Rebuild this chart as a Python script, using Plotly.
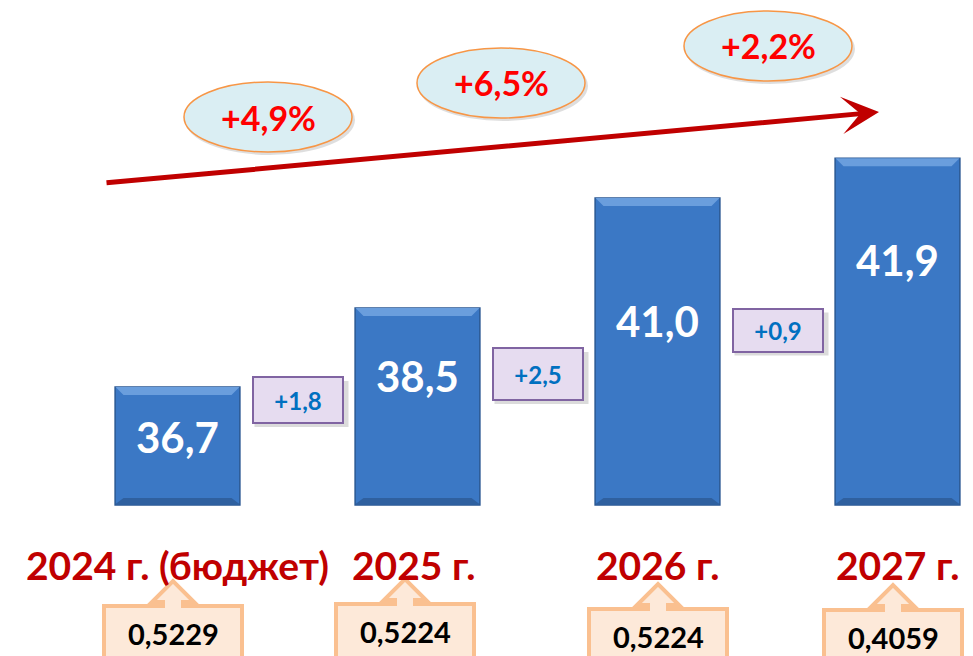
import plotly.graph_objects as go

# ---------------- data ----------------
years = ["2024 г. (бюджет)", "2025 г.", "2026 г.", "2027 г."]
values = [36.7, 38.5, 41.0, 41.9]
deltas = [1.8, 2.5, 0.9]
growth_pct = [4.9, 6.5, 2.2]
shares = [0.5229, 0.5224, 0.5224, 0.4059]

# ---------------- layout helpers ----------------
W, H = 973, 656
BASE = 34.02
FONT = "Lato, 'Noto Sans', sans-serif"


def px(x):
    return x / W


def py(y):
    return 1 - y / H


def fmt(v, nd=1):
    return f"{v:.{nd}f}".replace(".", ",")


def ann(**kw):
    d = dict(showarrow=False, xanchor="center", yanchor="middle")
    d.update(kw)
    return d


xs = list(range(len(values)))

fig = go.Figure()
fig.add_trace(go.Bar(
    x=xs, y=[v - BASE for v in values], base=BASE, width=0.52,
    marker=dict(color="#3b78c5", line=dict(color="#2a5792", width=1.5)),
    hoverinfo="skip",
))

shapes = []
annotations = []

# bevels on bars (pixel-sized, anchored to each bar top / bottom)
for i, v in enumerate(values):
    shapes.append(dict(type="path", xref="x", yref="y", xsizemode="pixel", ysizemode="pixel",
                       xanchor=i, yanchor=v, path="M-62,0 L62,0 L54,-8 L-54,-8 Z",
                       fillcolor="#6a9edd", line=dict(width=0)))
    shapes.append(dict(type="path", xref="x", yref="y", xsizemode="pixel", ysizemode="pixel",
                       xanchor=i, yanchor=BASE, path="M-62,1 L62,1 L54,7 L-54,7 Z",
                       fillcolor="#2f609f", line=dict(width=0)))

# bar value labels
label_y_px = [437, 376, 321, 260]
for i, v in enumerate(values):
    annotations.append(ann(x=i, xref="x", y=py(label_y_px[i]), yref="paper",
                           text=fmt(v),
                           font=dict(family=FONT, size=42, color="white", weight="bold")))

# delta boxes between bars
delta_y_px = [400, 374, 330]
delta_h = [42, 48, 39]
for i, d in enumerate(deltas):
    shapes.append(dict(type="rect", xref="x", yref="paper", xsizemode="pixel",
                       xanchor=i + 0.5, x0=-43, x1=51,
                       y0=py(delta_y_px[i] + delta_h[i] / 2 + 6),
                       y1=py(delta_y_px[i] - delta_h[i] / 2 + 2),
                       fillcolor="rgba(0,0,0,0.14)", line=dict(width=0)))
    annotations.append(ann(x=i + 0.5, xref="x", y=py(delta_y_px[i]), yref="paper",
                           text="+" + fmt(d),
                           bgcolor="#e6dcf0", bordercolor="#8064a2", borderwidth=2,
                           width=86, height=delta_h[i],
                           font=dict(family=FONT, size=24, color="#0070c0", weight="bold")))

# trend arrow
annotations.append(dict(x=px(879), y=py(112), xref="paper", yref="paper",
                        ax=105 - 879, ay=183 - 112, axref="pixel", ayref="pixel",
                        text="", showarrow=True, arrowhead=3, arrowsize=1.25,
                        arrowwidth=5, arrowcolor="#c00000", standoff=0))

# growth ellipses
ell_c = [(268, 117), (501, 83), (768, 46)]
for (cx, cy), g in zip(ell_c, growth_pct):
    shapes.append(dict(type="circle", xref="paper", yref="paper",
                       x0=px(cx - 83), x1=px(cx + 87), y0=py(cy + 38), y1=py(cy - 32),
                       fillcolor="rgba(0,0,0,0.13)", line=dict(width=0)))
    shapes.append(dict(type="circle", xref="paper", yref="paper",
                       x0=px(cx - 84), x1=px(cx + 84), y0=py(cy + 35), y1=py(cy - 35),
                       fillcolor="#daeef3", line=dict(color="#f79646", width=1.5)))
    annotations.append(ann(x=px(cx), y=py(cy), xref="paper", yref="paper",
                           text="+" + fmt(g) + "%",
                           font=dict(family=FONT, size=34, color="#ff0000", weight="bold")))

# year labels
year_shift = [0, -4, 0, 0]
for i, t in enumerate(years):
    annotations.append(ann(x=i, xref="x", y=py(565), yref="paper", text=t, xshift=year_shift[i],
                           font=dict(family=FONT, size=39, color="#c00000", weight="bold")))

# share callouts
call_cx = [173, 405, 658, 893]
call_top = [606, 604, 609, 610]
for cx, top, s in zip(call_cx, call_top, shares):
    bot = top + 70
    pts = [(cx - 69, top), (cx - 10, top), (cx - 10, top - 4), (cx - 21, top - 4),
           (cx, top - 25), (cx + 21, top - 4), (cx + 10, top - 4), (cx + 10, top),
           (cx + 69, top), (cx + 69, bot), (cx - 69, bot)]
    path = "M" + " L".join(f"{px(a):.5f},{py(b):.5f}" for a, b in pts) + " Z"
    shapes.append(dict(type="path", xref="paper", yref="paper", path=path,
                       fillcolor="#fde9d9", line=dict(color="#fac090", width=4)))
    annotations.append(ann(x=px(cx), y=py(top + 27), xref="paper", yref="paper",
                           text=fmt(s, 4),
                           font=dict(family=FONT, size=29, color="black", weight="bold")))

fig.update_layout(
    width=W, height=H, margin=dict(l=0, r=0, t=0, b=0),
    paper_bgcolor="white", plot_bgcolor="white", showlegend=False,
    xaxis=dict(range=[-177.5 / 240, (W - 177.5) / 240], visible=False, fixedrange=True),
    yaxis=dict(range=[BASE - 151 / 44, BASE + 505 / 44], visible=False, fixedrange=True),
    shapes=shapes, annotations=annotations,
)

fig.write_html("out.html", config={"displayModeBar": False},
               post_script="document.body.style.margin='0';document.body.style.overflow='hidden';")
